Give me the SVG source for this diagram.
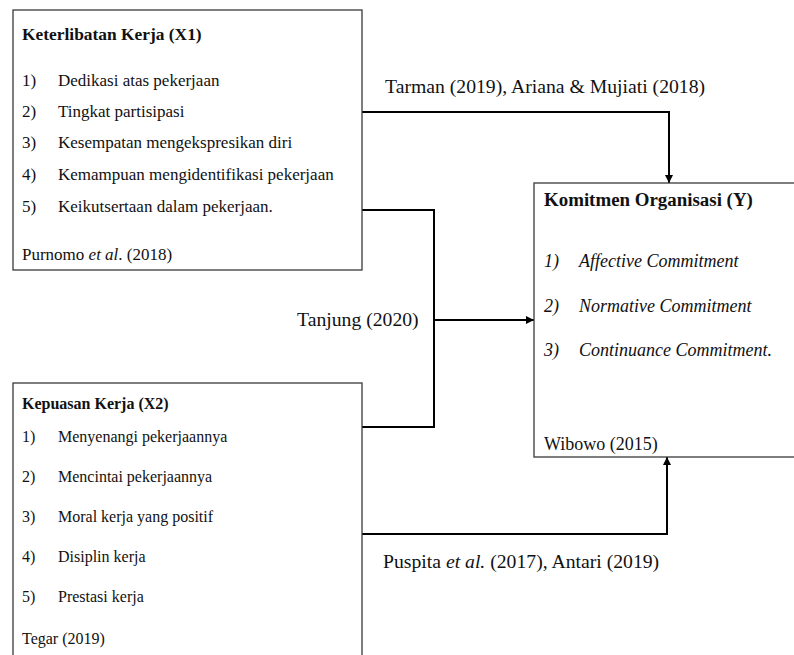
<svg xmlns="http://www.w3.org/2000/svg" width="794" height="655" viewBox="0 0 794 655">
<style>
.box{fill:#fff;stroke:#3a3a3a;stroke-width:1.3}
.conn{fill:none;stroke:#000;stroke-width:2}
text{font-family:'Liberation Serif','Times New Roman','DejaVu Serif',serif;fill:#111}
.t1{font-size:17.4px;font-weight:bold}
.i1{font-size:17px}
.t2{font-size:16px;font-weight:bold}
.i2{font-size:16px}
.ty{font-size:18.9px;font-weight:bold}
.iy{font-size:18px;font-style:italic}
.ny{font-size:18px}
.lab{font-size:19.7px}
.it{font-style:italic}
</style>
<defs>
<marker id="ah" viewBox="0 0 10 10" refX="10" refY="5" markerWidth="4" markerHeight="4" orient="auto" markerUnits="strokeWidth">
<path d="M0,0 L10,5 L0,10 z" fill="#000"/>
</marker>
</defs>
<g id="connectors">
<path class="conn" d="M362,112 H669 V183" marker-end="url(#ah)"/>
<path class="conn" d="M362,210 H434 V427 H362"/>
<path class="conn" d="M434,320 H534" marker-end="url(#ah)"/>
<path class="conn" d="M362,534 H667 V457" marker-end="url(#ah)"/>
</g>
<g id="x1">
<rect class="box" x="13" y="10" width="349" height="260"/>
<text class="t1" x="22" y="40">Keterlibatan Kerja (X1)</text>
<text class="i1" x="22" y="86">1)</text><text class="i1" x="58" y="86">Dedikasi atas pekerjaan</text>
<text class="i1" x="22" y="117">2)</text><text class="i1" x="58" y="117">Tingkat partisipasi</text>
<text class="i1" x="22" y="148">3)</text><text class="i1" x="58" y="148">Kesempatan mengekspresikan diri</text>
<text class="i1" x="22" y="180">4)</text><text class="i1" x="58" y="180">Kemampuan mengidentifikasi pekerjaan</text>
<text class="i1" x="22" y="212">5)</text><text class="i1" x="58" y="212">Keikutsertaan dalam pekerjaan.</text>
<text class="i1" x="22" y="260">Purnomo <tspan class="it">et al</tspan>. (2018)</text>
</g>
<g id="x2">
<rect class="box" x="13" y="383" width="349" height="290"/>
<text class="t2" x="22" y="409">Kepuasan Kerja (X2)</text>
<text class="i2" x="22" y="442">1)</text><text class="i2" x="58" y="442">Menyenangi pekerjaannya</text>
<text class="i2" x="22" y="482">2)</text><text class="i2" x="58" y="482">Mencintai pekerjaannya</text>
<text class="i2" x="22" y="522">3)</text><text class="i2" x="58" y="522">Moral kerja yang positif</text>
<text class="i2" x="22" y="562">4)</text><text class="i2" x="58" y="562">Disiplin kerja</text>
<text class="i2" x="22" y="602">5)</text><text class="i2" x="58" y="602">Prestasi kerja</text>
<text class="i2" x="22" y="644">Tegar (2019)</text>
</g>
<g id="y">
<rect class="box" x="534" y="183" width="270" height="274"/>
<text class="ty" x="544" y="206">Komitmen Organisasi (Y)</text>
<text class="iy" x="544" y="267">1)</text><text class="iy" x="579" y="267">Affective Commitment</text>
<text class="iy" x="544" y="312">2)</text><text class="iy" x="579" y="312">Normative Commitment</text>
<text class="iy" x="544" y="356">3)</text><text class="iy" x="579" y="356">Continuance Commitment.</text>
<text class="ny" x="544" y="450">Wibowo (2015)</text>
</g>
<g id="labels">
<text class="lab" x="385" y="93">Tarman (2019), Ariana &amp; Mujiati (2018)</text>
<text class="lab" x="297" y="326">Tanjung (2020)</text>
<text class="lab" x="383" y="568">Puspita <tspan class="it">et al.</tspan> (2017), Antari (2019)</text>
</g>
</svg>
